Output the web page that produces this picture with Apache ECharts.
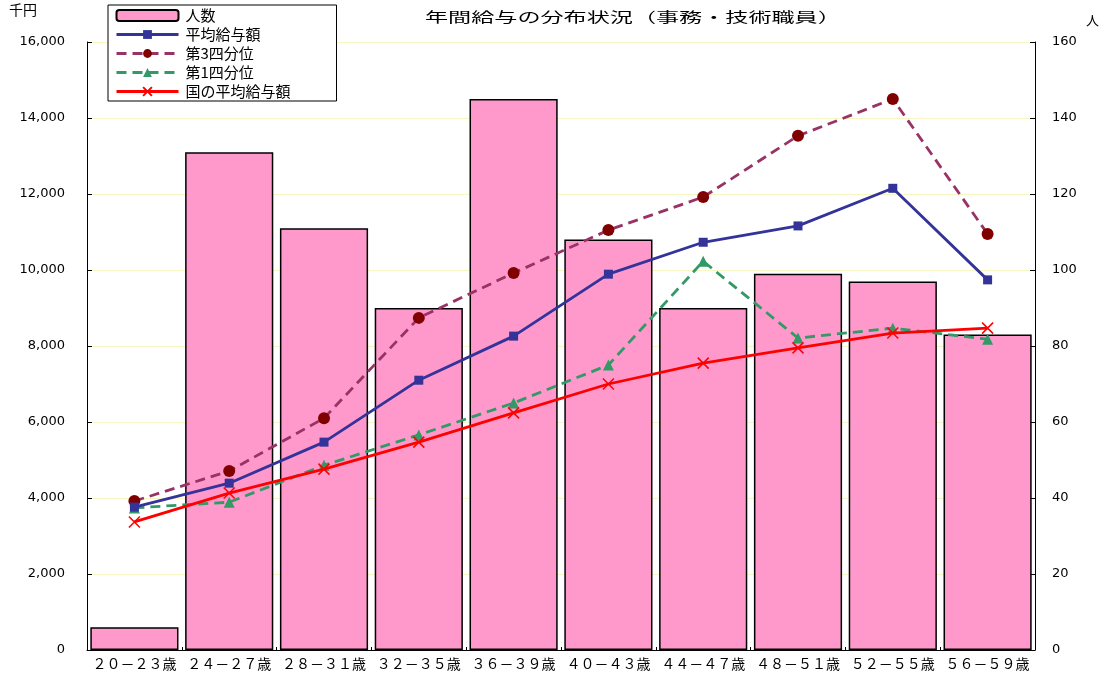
<!DOCTYPE html>
<html><head><meta charset="utf-8">
<script src="https://cdn.jsdelivr.net/npm/echarts@6/dist/echarts.min.js"></script>
<style>html,body{margin:0;padding:0;background:#fff}#c{width:1105px;height:678px}</style>
</head><body><div id="c"></div>
<script>
const categories = ['２０－２３歳','２４－２７歳','２８－３１歳','３２－３５歳','３６－３９歳','４０－４３歳','４４－４７歳','４８－５１歳','５２－５５歳','５６－５９歳'];
const headcount = [6, 131, 111, 90, 145, 108, 90, 99, 97, 83];
const avgPay = [3760, 4390, 5470, 7100, 8260, 9890, 10730, 11160, 12150, 9740];
const q3Pay = [3920, 4710, 6100, 8740, 9920, 11050, 11920, 13530, 14500, 10950];
const q1Pay = [3740, 3890, 4860, 5660, 6500, 7500, 10230, 8210, 8470, 8180];
const nationalPay = [3370, 4130, 4760, 5470, 6240, 7000, 7550, 7950, 8340, 8470];
const leftTicks = {min: 0, max: 16000, interval: 2000};
const rightTicks = {min: 0, max: 160, interval: 20};

const chart = echarts.init(document.getElementById('c'), null, {renderer: 'canvas'});
const jp = '"Noto Sans CJK JP", sans-serif';
const num = '"DejaVu Sans", sans-serif';
const xPath = 'path://M0,0L10,10M10,0L0,10';
chart.setOption({
  animation: false,
  backgroundColor: '#fff',
  graphic: [
    {type: 'text', left: 425, top: 10, scaleX: 1.65, style: {text: '年間給与の分布状況（事務・技術職員）', font: '14px ' + jp, fill: '#000'}},
    {type: 'text', left: 9, top: 3, style: {text: '千円', font: '14px ' + jp, fill: '#000'}},
    {type: 'text', left: 1086, top: 14, style: {text: '人', font: '13px ' + jp, fill: '#000'}}
  ],
  legend: {
    orient: 'vertical', left: 108, top: 5,
    backgroundColor: '#fff', borderColor: '#000', borderWidth: 1,
    padding: [3, 46, 2, 7],
    itemWidth: 62, itemHeight: 11, itemGap: 4,
    lineStyle: {width: 3},
    textStyle: {fontFamily: jp, fontSize: 15, lineHeight: 15, color: '#000', padding: [0, 0, 0, 2]},
    data: ['人数', '平均給与額', '第3四分位', '第1四分位', '国の平均給与額']
  },
  grid: {left: 87, right: 70, top: 42, bottom: 28, containLabel: false},
  xAxis: {
    type: 'category', data: categories,
    axisLine: {lineStyle: {color: '#000', width: 1}},
    axisTick: {show: true, inside: true, length: 3, lineStyle: {color: '#000'}},
    axisLabel: {fontFamily: jp, fontSize: 14, color: '#000', margin: 7, interval: 0}
  },
  yAxis: [
    {
      type: 'value', position: 'left', min: leftTicks.min, max: leftTicks.max, interval: leftTicks.interval,
      axisLine: {show: true, lineStyle: {color: '#000'}},
      axisTick: {show: true, inside: true, length: 5, lineStyle: {color: '#000'}},
      axisLabel: {fontFamily: num, fontSize: 13, color: '#000', margin: 22,
        formatter: v => v.toLocaleString('en-US')},
      splitLine: {show: true, lineStyle: {color: '#f7f7c4', width: 1}}
    },
    {
      type: 'value', position: 'right', min: rightTicks.min, max: rightTicks.max, interval: rightTicks.interval,
      axisLine: {show: true, lineStyle: {color: '#000'}},
      axisTick: {show: true, inside: true, length: 5, lineStyle: {color: '#000'}},
      axisLabel: {fontFamily: num, fontSize: 13, color: '#000', margin: 17},
      splitLine: {show: false}
    }
  ],
  series: [
    {
      name: '人数', type: 'bar', yAxisIndex: 1, data: headcount,
      barCategoryGap: '7%',
      itemStyle: {color: '#ff99cc', borderColor: '#000', borderWidth: 1.5}
    },
    {
      name: '平均給与額', type: 'line', data: avgPay, z: 5,
      symbol: 'rect', symbolSize: 9,
      lineStyle: {color: '#333399', width: 2.8},
      itemStyle: {color: '#333399'}
    },
    {
      name: '第3四分位', type: 'line', data: q3Pay, z: 4,
      symbol: 'circle', symbolSize: 12,
      lineStyle: {color: '#993366', width: 2.8, type: [10, 6]},
      itemStyle: {color: '#800000'}
    },
    {
      name: '第1四分位', type: 'line', data: q1Pay, z: 4,
      symbol: 'triangle', symbolSize: 11,
      lineStyle: {color: '#339966', width: 2.8, type: [10, 6]},
      itemStyle: {color: '#339966'}
    },
    {
      name: '国の平均給与額', type: 'line', data: nationalPay, z: 6,
      symbol: xPath, symbolSize: 11,
      lineStyle: {color: '#ff0000', width: 2.8},
      itemStyle: {color: '#ff0000', borderColor: '#ff0000', borderWidth: 1.5}
    }
  ]
});
</script></body></html>
